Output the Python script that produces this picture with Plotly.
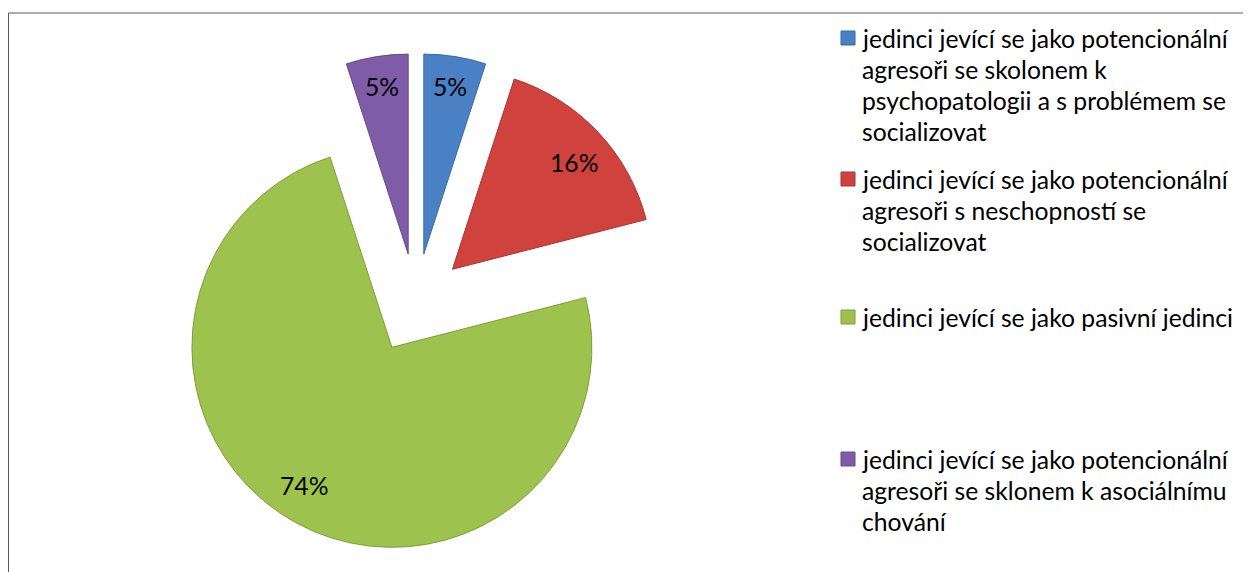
import math
import plotly.graph_objects as go

# ---- data ----
legend_lines = [
    ["jedinci jevící se jako potencionální", "agresoři se skolonem k",
     "psychopatologii a s problémem se", "socializovat"],
    ["jedinci jevící se jako potencionální", "agresoři s neschopností se",
     "socializovat"],
    ["jedinci jevící se jako pasivní jedinci"],
    ["jedinci jevící se jako potencionální", "agresoři se sklonem k asociálnímu",
     "chování"],
]
labels = [" ".join(l) for l in legend_lines]
values = [5, 16, 74, 5]
percent_text = ["5%", "16%", "74%", "5%"]

# ---- style ----
colors = ["#4a80c4", "#d0423e", "#9dc34e", "#7e5ca8"]
edge_colors = ["#3a6aa6", "#a83532", "#7d9e3c", "#654a8a"]
PULL = 0.25
label_frac = [0.85, 0.81, 0.82, 0.85]
label_angle_shift = [0.0, 2.0, 3.5, 0.0]  # degrees
# the page body has an 8px margin, so the figure is 8px smaller than the window
OFF = 8
W, H = 1251 - OFF, 572 - OFF
FONT = "Lato"
FS = 24.7

# pie box in figure pixels
bx0, bx1, by0, by1 = 158, 658, 45.5, 545.5
box = min(bx1 - bx0, by1 - by0)
R = box / (2 + 2 * PULL)
cx, cy = (bx0 + bx1) / 2, (by0 + by1) / 2

fig = go.Figure(go.Pie(
    labels=labels, values=values, sort=False, direction="clockwise", rotation=0,
    pull=[PULL] * len(values),
    marker=dict(colors=colors, line=dict(color=edge_colors, width=1)),
    textinfo="none", hoverinfo="label+percent", showlegend=False,
    domain=dict(x=[bx0 / W, bx1 / W], y=[1 - by1 / H, 1 - by0 / H]),
))

annotations = []
# slice labels, positioned along each slice bisector
total = sum(values)
cum = 0
for i, v in enumerate(values):
    mid = (cum + v / 2) / total * 2 * math.pi
    cum += v
    pdx, pdy = math.sin(mid), -math.cos(mid)
    lang = mid + math.radians(label_angle_shift[i])
    ldx, ldy = math.sin(lang), -math.cos(lang)
    ax = cx + pdx * R * PULL + ldx * R * label_frac[i]
    ay = cy + pdy * R * PULL + ldy * R * label_frac[i]
    annotations.append(dict(x=ax / W, y=1 - ay / H, xref="paper", yref="paper",
                            text=percent_text[i], showarrow=False,
                            font=dict(family=FONT, size=FS, color="#000000"),
                            xanchor="center", yanchor="middle"))

# legend
item_top = [30, 171, 309, 451]
line_gap = 31
shapes = []
for i, lines in enumerate(legend_lines):
    y0 = item_top[i]
    shapes.append(dict(type="rect", xref="paper", yref="paper",
                       x0=833 / W, x1=847 / W, y0=1 - (y0 - 7) / H, y1=1 - (y0 + 7) / H,
                       fillcolor=colors[i], line=dict(color=edge_colors[i], width=1)))
    for j, t in enumerate(lines):
        annotations.append(dict(x=852 / W, y=1 - (y0 + j * line_gap) / H,
                                xref="paper", yref="paper", text=t, showarrow=False,
                                font=dict(family=FONT, size=FS, color="#000000"),
                                xanchor="left", yanchor="middle"))

# outer frame (extends beyond the visible area on right/bottom)
shapes.append(dict(type="rect", xref="paper", yref="paper",
                   x0=0.5 / W, x1=1.05, y0=-0.05, y1=1 - 5 / H,
                   line=dict(color="#5a5a5a", width=1), fillcolor="rgba(0,0,0,0)"))

fig.update_layout(
    width=W, height=H, margin=dict(l=0, r=0, t=0, b=0),
    paper_bgcolor="white", plot_bgcolor="white",
    annotations=annotations, shapes=shapes,
)
fig.write_html("out.html")
